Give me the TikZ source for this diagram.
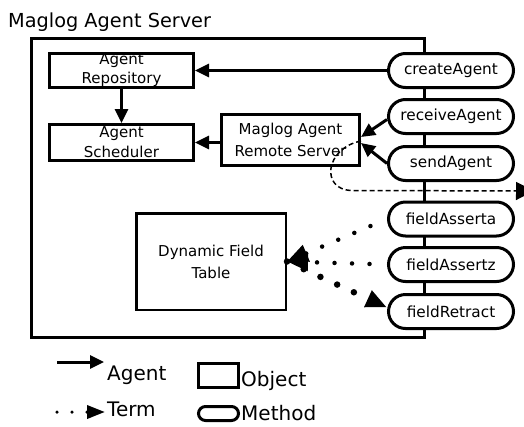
\documentclass[tikz,border=0pt]{standalone}
\usepackage{fontspec}
\setmainfont{DejaVu Sans}
\usetikzlibrary{arrows.meta}
\begin{document}
\begin{tikzpicture}[x=1pt,y=-1pt,
  obj/.style={draw, line width=3pt, rectangle, inner sep=0pt, align=center, fill=white},
  meth/.style={draw, line width=3pt, rectangle, rounded corners=17pt, minimum width=125pt,
    minimum height=34pt, inner sep=0pt, fill=white, font=\fontsize{15.3}{18}\selectfont},
  agentarrow/.style={line width=3pt, -{Triangle[length=14pt,width=13pt]}},
  dashline/.style={line width=1.5pt, dash pattern=on 5pt off 3pt, -{Triangle[length=18pt,width=18pt]}},
  termsmall/.style={line width=4.5pt, line cap=round, dash pattern=on 0pt off 17.5pt, -{Triangle[length=21pt,width=17pt]}},
  termbig/.style={line width=6.5pt, line cap=round, dash pattern=on 0pt off 18.4pt, -{Triangle[length=21pt,width=17pt]}},
  termlegend/.style={line width=3.5pt, line cap=round, dash pattern=on 0pt off 15pt, -{Triangle[length=18pt,width=13pt]}},
  legtext/.style={inner sep=0pt, font=\fontsize{20}{24}\selectfont},
]
\useasboundingbox (0,0) rectangle (524,426);
\node[anchor=base west, inner sep=0pt, font=\fontsize{19.3}{22}\selectfont] (title) at (8,27) {Maglog Agent Server};
\node[draw, line width=3pt, minimum width=392.5pt, minimum height=299pt, inner sep=0pt] (server) at (227.75,188) {};

\node[obj, minimum width=144pt, minimum height=34pt, font=\fontsize{15}{19}\selectfont] (repo) at (121.5,70.5) {Agent\\Repository};
\node[obj, minimum width=144pt, minimum height=36pt, font=\fontsize{15}{20}\selectfont] (sched) at (121.5,142.5) {Agent\\Scheduler};
\node[obj, minimum width=138pt, minimum height=51pt, font=\fontsize{15}{22}\selectfont] (remote) at (290.5,140) {Maglog Agent\\Remote Server};
\node[obj, line width=2.5pt, minimum width=149.5pt, minimum height=96.5pt, font=\fontsize{15}{22}\selectfont] (table) at (211,261.5) {Dynamic Field\\Table};

\node[meth] (create) at (451,70.5) {createAgent};
\node[meth] (receive) at (451,116.5) {receiveAgent};
\node[meth] (send) at (451,163.5) {sendAgent};
\node[meth] (asserta) at (451,219) {fieldAsserta};
\node[meth] (assertz) at (451,264.5) {fieldAssertz};
\node[meth] (retract) at (451,311.5) {fieldRetract};

\draw[agentarrow] (create.west) -- (repo.east);
\draw[agentarrow] (repo.south) -- (sched.north);
\draw[agentarrow] (remote.west |- sched.east) -- (sched.east);
\draw[agentarrow] ([yshift=-3pt]receive.west) -- ([yshift=3pt]remote.east);
\draw[agentarrow] (send.west) -- ([yshift=-3pt]remote.east);

\coordinate (dashend) at (534,191);
\draw[dashline] ([yshift=-1pt]remote.east) .. controls (325,148) and (320,190) .. (352,190.5) -- (dashend);

\draw[termsmall, shorten <=10pt, dash phase=9.5pt] (asserta.west) -- (table.east);
\draw[termsmall, shorten <=10pt, dash phase=10pt] (assertz.west) -- (table.east);
\draw[termbig] (table.east) -- ([yshift=4pt]retract.west);

\coordinate (la1) at (57,362);
\coordinate (la2) at (104,362);
\draw[agentarrow] (la1) -- (la2);
\node[legtext, anchor=base west] (lagent) at (107,380) {Agent};
\coordinate (lt1) at (57,412);
\coordinate (lt2) at (105,412);
\draw[termlegend] (lt1) -- (lt2);
\node[legtext, anchor=base west] (lterm) at (107,416) {Term};
\node[draw, line width=3pt, minimum width=40pt, minimum height=24pt, inner sep=0pt] (lobj) at (218.5,375) {};
\node[legtext, anchor=base west] (lobjt) at (241,386) {Object};
\node[draw, line width=3pt, minimum width=40pt, minimum height=14pt, rounded corners=7pt, inner sep=0pt] (lmeth) at (218.5,413.5) {};
\node[legtext, anchor=base west] (lmetht) at (241,420) {Method};
\end{tikzpicture}
\end{document}
